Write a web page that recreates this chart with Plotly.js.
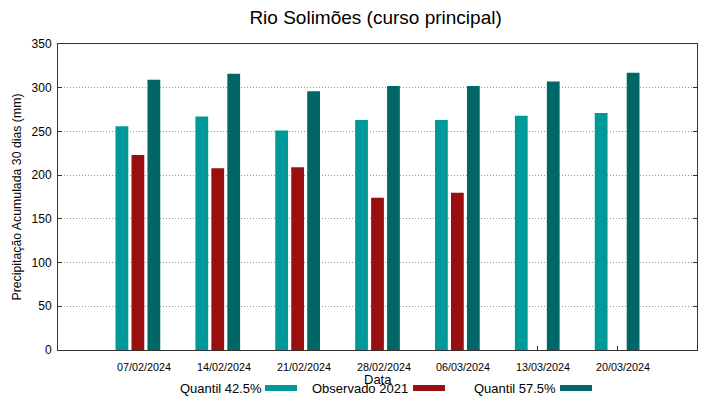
<!DOCTYPE html>
<html><head><meta charset="utf-8">
<script src="https://cdn.plot.ly/plotly-3.0.1.min.js"></script>
<style>html,body{margin:0;padding:0;background:#fff;}#chart{width:719px;height:399px;}</style>
</head><body><div id="chart"></div>
<script>
const dates = ["07/02/2024","14/02/2024","21/02/2024","28/02/2024","06/03/2024","13/03/2024","20/03/2024"];
const quantil425 = [256, 267, 251, 263, 263, 268, 271];
const observado2021 = [223, 208, 209, 174, 180, null, null];
const quantil575 = [309, 316, 296, 302, 302, 307, 317];
const seriesNames = ["Quantil 42.5%", "Observado 2021", "Quantil 57.5%"];
const colors = ["#009999", "#990f0f", "#006666"];

const FONT = "Liberation Sans, Arial, sans-serif";
const L = 58, R = 697, T = 44, B = 350;
const px2x = p => (p - L) / (R - L);
const py2y = p => (B - p) / (B - T);

const series = [quantil425, observado2021, quantil575];
const traces = series.map((vals, i) => ({
  type: "bar", x: dates, y: vals, name: seriesNames[i],
  marker: {color: colors[i], line: {width: 0}}, showlegend: false, hoverinfo: "skip"
}));

const annotations = [];
const shapes = [];
// x tick labels (gnuplot places them slightly right of the tick)
dates.forEach(d => {
  annotations.push({xref: "x", yref: "paper", x: d, y: py2y(367), xshift: 6,
    xanchor: "center", yanchor: "middle", text: d, showarrow: false,
    font: {family: FONT, size: 10.8, color: "#000"}});
});
// x axis title
annotations.push({xref: "paper", yref: "paper", x: 0.5, y: py2y(379), xanchor: "center", yanchor: "middle",
  text: "Data", showarrow: false, font: {family: FONT, size: 13, color: "#000"}});
// legend drawn gnuplot-style: text then sample
const legText = [178, 310, 472];
const legSwatch = [265, 413, 560];
seriesNames.forEach((n, i) => {
  annotations.push({xref: "paper", yref: "paper", x: px2x(legText[i]), y: py2y(388),
    xanchor: "left", yanchor: "middle", text: n, showarrow: false,
    font: {family: FONT, size: 13, color: "#000"}});
  shapes.push({type: "rect", xref: "paper", yref: "paper",
    x0: px2x(legSwatch[i]), x1: px2x(legSwatch[i] + 32),
    y0: py2y(391), y1: py2y(385),
    fillcolor: colors[i], line: {width: 0}});
});

const layout = {
  width: 719, height: 399,
  margin: {l: L, r: 719 - R, t: T, b: 399 - B},
  paper_bgcolor: "#fff", plot_bgcolor: "#fff",
  font: {family: FONT, color: "#000"},
  title: {text: "Rio Solimões (curso principal)", xref: "paper", x: 0.497, xanchor: "center",
    yref: "container", y: 1 - 17 / 399, yanchor: "middle",
    font: {size: 19, color: "#000"}},
  barmode: "group", bargap: 0.4, bargroupgap: 0.2,
  xaxis: {type: "category", range: [-1, 7], showgrid: false, zeroline: false,
    showline: true, linecolor: "#333", linewidth: 1, mirror: true,
    ticks: "inside", ticklen: 4, tickcolor: "#333",
    showticklabels: false},
  yaxis: {range: [0, 350], dtick: 50, showgrid: true, gridcolor: "#999", griddash: "1px,2px", gridwidth: 1,
    zeroline: false, showline: true, linecolor: "#333", linewidth: 1, mirror: "ticks",
    ticks: "inside", ticklen: 4, tickcolor: "#333", ticklabelstandoff: 3,
    tickfont: {size: 12, color: "#000"},
    title: {text: "Precipitação Acumulada 30 dias (mm)", standoff: 7, font: {size: 12.3, color: "#000"}}},
  annotations: annotations, shapes: shapes
};
Plotly.newPlot("chart", traces, layout, {staticPlot: true});
</script></body></html>
